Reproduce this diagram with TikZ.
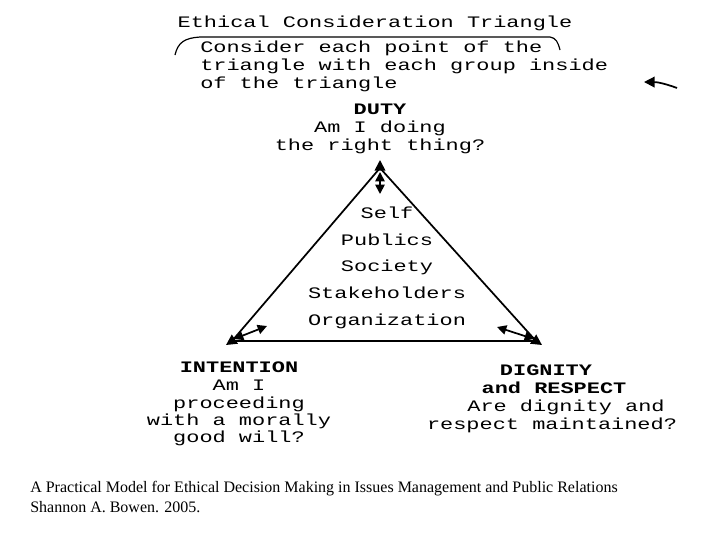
\documentclass[tikz,border=0pt]{standalone}
\usepackage{fontspec}
\setmainfont{Liberation Serif}
\newfontfamily\cour[FakeStretch=1.37]{Liberation Mono}
\usetikzlibrary{arrows.meta}
\begin{document}
\begin{tikzpicture}[x=0.75pt,y=-0.75pt,
  mono/.style={font=\cour\fontsize{12}{13.5}\selectfont, inner sep=0pt, align=center},
  monob/.style={font=\cour\bfseries\fontsize{12}{13.5}\selectfont, inner sep=0pt},
  captext/.style={font=\fontsize{12}{15}\selectfont, inner sep=0pt, anchor=base west},
  tri/.style={line width=1.3pt},
  arr/.style={-{Triangle[length=8pt,width=8pt]}, line width=1.3pt},
  darr/.style={{Triangle[length=7pt,width=7pt]}-{Triangle[length=7pt,width=7pt]}, line width=1.3pt}]
\useasboundingbox (0,0) rectangle (720,540);
\node[mono,anchor=base] (title) at (375,27) {Ethical Consideration Triangle};
\node[mono,anchor=base west] (l1) at (200,52) {Consider each point of the};
\node[mono,anchor=base west] (l2) at (200,70) {triangle with each group inside};
\node[mono,anchor=base west] (l3) at (200,88) {of the triangle};
\draw[line width=0.9pt] (175,55) .. controls (178,42) and (185,38) .. (200,37) -- (550,37) .. controls (556,38) and (558,42) .. (560,50);
\coordinate (as) at (677,88); \coordinate (ae) at (644,82);
\draw[arr] (as) to[bend right=10] (ae);
\node[monob,anchor=base] (duty) at (380,114) {DUTY};
\node[mono,anchor=base] (d1) at (380,132) {Am I doing};
\node[mono,anchor=base] (d2) at (380,150) {the right thing?};
\coordinate (T) at (380,160); \coordinate (L) at (226,345); \coordinate (R) at (542,345);
\coordinate (t0) at (380,168);
\coordinate (l0) at (232,341); \coordinate (r0) at (536,341);
\draw[tri] (l0) -- (t0) -- (r0) -- cycle;
\draw[arr] (t0) -- (T);
\draw[arr] (l0) -- (L);
\draw[arr] (r0) -- (R);
\coordinate (ts) at (380,172); \coordinate (te) at (380,194);
\draw[darr] (ts) -- (te);
\coordinate (ls) at (234,339); \coordinate (le) at (267,326);
\draw[darr] (ls) -- (le);
\coordinate (rs) at (534,339); \coordinate (re) at (497,327);
\draw[darr] (rs) -- (re);
\node[mono,anchor=base] (s1) at (387,218) {Self};
\node[mono,anchor=base] (s2) at (387,245) {Publics};
\node[mono,anchor=base] (s3) at (387,271) {Society};
\node[mono,anchor=base] (s4) at (387,298) {Stakeholders};
\node[mono,anchor=base] (s5) at (387,325) {Organization};
\node[monob,anchor=base] (int) at (239,372) {INTENTION};
\node[mono,anchor=base] (i1) at (239,390) {Am I};
\node[mono,anchor=base] (i2) at (239,408) {proceeding};
\node[mono,anchor=base] (i3) at (239,425) {with a morally};
\node[mono,anchor=base] (i4) at (239,442) {good will?};
\node[monob,anchor=base] (dig) at (546,375) {DIGNITY};
\node[monob,anchor=base] (dig2) at (554,393) {and RESPECT};
\node[mono,anchor=base] (g1) at (566,411) {Are dignity and};
\node[mono,anchor=base] (g2) at (552,429) {respect maintained?};
\node[captext] (c1) at (30,492) {A Practical Model for Ethical Decision Making in Issues Management and Public Relations};
\node[captext] (c2) at (30,512) {Shannon A. Bowen. 2005.};
\end{tikzpicture}
\end{document}
